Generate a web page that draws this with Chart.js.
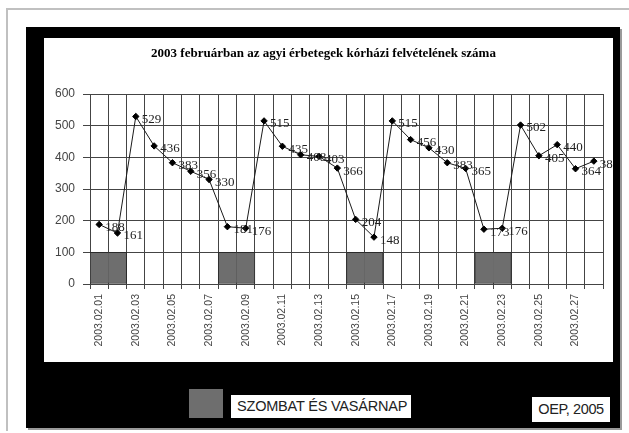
<!DOCTYPE html>
<html>
<head>
<meta charset="utf-8">
<script src="https://cdn.jsdelivr.net/npm/chart.js@4.4.1/dist/chart.umd.min.js"></script>
<style>
  html, body { margin: 0; padding: 0; background: #fff; }
  #page { position: relative; width: 629px; height: 433px; overflow: hidden; background: #fff; }
  #frameTop { position: absolute; left: 6px; top: 8px; width: 623px; height: 2px; background: #c0c0c0; }
  #frameLeft { position: absolute; left: 6px; top: 8px; width: 2px; height: 423px; background: #c0c0c0; }
  #panel { position: absolute; left: 26px; top: 27px; width: 594px; height: 401px; background: #000; box-shadow: 2px 2px 0 #9a9a9a; }
  #white { position: absolute; left: 44px; top: 38px; width: 569px; height: 324px; background: #fff; }
  #chart { position: absolute; left: 44px; top: 38px; }
  .swatch { position: absolute; left: 189px; top: 389px; width: 34px; height: 29px; background: #6e6e6e; }
  .box { position: absolute; background: #fff; color: #222; font-family: "Liberation Sans", Arial, sans-serif;
         font-size: 14.5px; line-height: 23px; white-space: nowrap; overflow: hidden; }
  #legText { left: 231px; top: 395px; width: 180px; height: 23px; padding-left: 6px; box-sizing: border-box; letter-spacing: -0.2px; }
  #source { left: 532px; top: 397px; width: 78px; height: 25px; line-height: 25px; text-align: center; letter-spacing: -0.4px; }
</style>
</head>
<body>
<div id="page">
  <div id="frameTop"></div>
  <div id="frameLeft"></div>
  <div id="panel"></div>
  <div id="white"></div>
  <canvas id="chart" width="569" height="324"></canvas>
  <div class="swatch"></div>
  <div class="box" id="legText">SZOMBAT ÉS VASÁRNAP</div>
  <div class="box" id="source">OEP, 2005</div>
</div>
<script>
// days of February 2003
const days = [
  '2003.02.01', '2003.02.02', '2003.02.03', '2003.02.04', '2003.02.05', '2003.02.06', '2003.02.07',
  '2003.02.08', '2003.02.09', '2003.02.10', '2003.02.11', '2003.02.12', '2003.02.13', '2003.02.14',
  '2003.02.15', '2003.02.16', '2003.02.17', '2003.02.18', '2003.02.19', '2003.02.20', '2003.02.21',
  '2003.02.22', '2003.02.23', '2003.02.24', '2003.02.25', '2003.02.26', '2003.02.27', '2003.02.28'
];

// hospital admissions per day
const admissions = [188, 161, 529, 436, 383, 356, 330, 181, 176, 515, 435, 408, 403, 366,
  204, 148, 515, 456, 430, 383, 365, 173, 176, 502, 405, 440, 364, 388];

// weekend marker bars (Saturday & Sunday)
const weekend = [100, 100, null, null, null, null, null, 100, 100, null, null, null, null, null,
  100, 100, null, null, null, null, null, 100, 100, null, null, null, null, null];

const yTicks = [0, 100, 200, 300, 400, 500, 600];

const gridColor = '#444';

// value labels to the right of each point
const pointLabels = {
  id: 'pointLabels',
  afterDatasetsDraw(chart) {
    const ctx = chart.ctx;
    const meta = chart.getDatasetMeta(0);
    ctx.save();
    ctx.font = '13px "Liberation Serif", "Times New Roman", serif';
    ctx.fillStyle = '#222';
    ctx.textAlign = 'left';
    ctx.textBaseline = 'middle';
    meta.data.forEach((pt, i) => {
      ctx.fillText(String(admissions[i]), pt.x + 6, pt.y + 3);
    });
    ctx.restore();
  }
};

const chart = new Chart(document.getElementById('chart'), {
  type: 'bar',
  data: {
    labels: days,
    datasets: [{
      type: 'line',
      label: 'Felvételek',
      data: admissions,
      borderColor: '#1a1a1a',
      borderWidth: 1,
      tension: 0,
      pointStyle: 'rectRot',
      pointRadius: 3.2,
      pointBackgroundColor: '#000',
      pointBorderColor: '#000',
      pointBorderWidth: 1,
      order: 0
    }, {
      type: 'bar',
      label: 'SZOMBAT ÉS VASÁRNAP',
      data: weekend,
      backgroundColor: '#6e6e6e',
      borderColor: '#2a2a2a',
      borderWidth: (c) => {
        // draw each weekend pair as one block
        const i = c.dataIndex;
        const first = weekend[i] !== null && weekend[i + 1] !== null && weekend[i + 1] !== undefined;
        return first ? { top: 1, left: 1, bottom: 1, right: 0 } : { top: 1, left: 0, bottom: 1, right: 1 };
      },
      borderSkipped: false,
      barPercentage: 1,
      categoryPercentage: 1,
      order: 1
    }]
  },
  options: {
    responsive: false,
    animation: false,
    devicePixelRatio: 1,
    layout: { padding: { left: 0, right: 10, top: 0, bottom: 0 } },
    plugins: {
      legend: { display: false },
      tooltip: { enabled: false },
      title: {
        display: true,
        text: '2003 februárban az agyi érbetegek kórházi felvételének száma',
        color: '#000',
        font: { family: '"Liberation Serif", "Times New Roman", serif', weight: 'bold', size: 13 },
        padding: { top: 8, bottom: 32.4 }
      }
    },
    scales: {
      x: {
        offset: true,
        afterFit: (s) => { s.height = 78; },
        grid: { offset: true, color: gridColor, lineWidth: 1, tickLength: 5, tickColor: gridColor },
        border: { display: true, color: gridColor },
        ticks: {
          autoSkip: false,
          maxRotation: 90,
          minRotation: 90,
          padding: 5,
          color: '#444',
          font: { family: '"Liberation Sans", Arial, sans-serif', size: 10.5 },
          callback: function (v, i) { return i % 2 === 0 ? this.getLabelForValue(v) : ''; }
        }
      },
      y: {
        min: yTicks[0],
        max: yTicks[yTicks.length - 1],
        afterFit: (s) => { s.width = 46; },
        grid: { color: gridColor, lineWidth: 1, tickLength: 7, tickColor: gridColor },
        border: { display: true, color: gridColor },
        ticks: {
          stepSize: 100,
          padding: 8,
          color: '#444',
          font: { family: '"Liberation Sans", Arial, sans-serif', size: 12 }
        }
      }
    }
  },
  plugins: [pointLabels]
});
</script>
</body>
</html>
